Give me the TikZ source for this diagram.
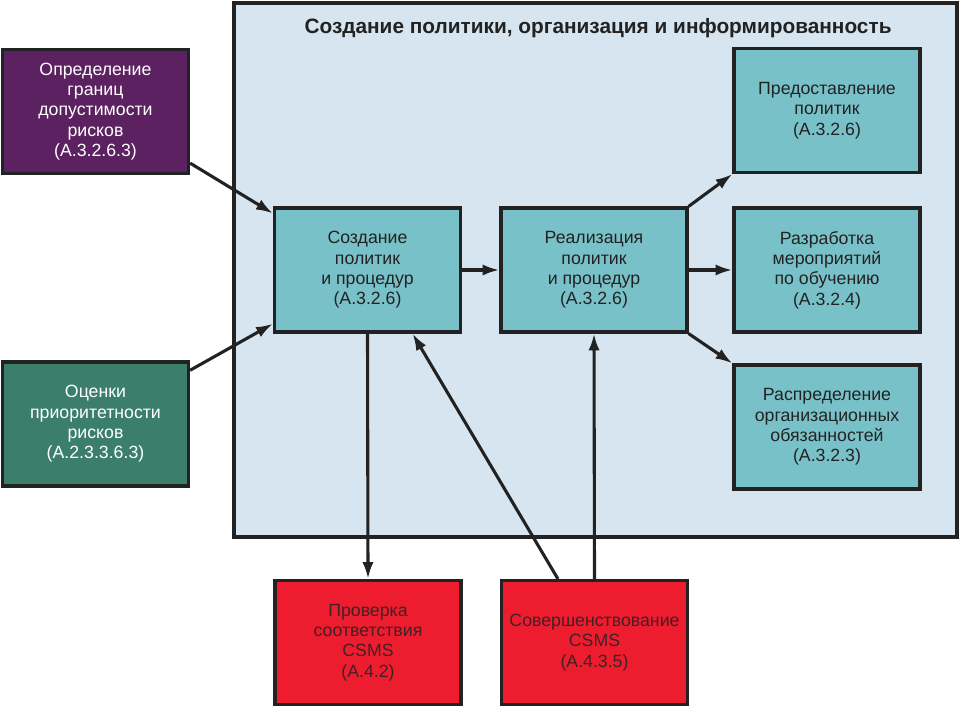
\documentclass[tikz,border=0pt]{standalone}
\usepackage{fontspec}
\setmainfont{Liberation Sans}
\usepackage{xcolor}
\usepackage{tikz}
\usetikzlibrary{arrows.meta}

\definecolor{plum}{HTML}{5C2160}
\definecolor{pine}{HTML}{3B7E6C}
\definecolor{teal}{HTML}{79C1C8}
\definecolor{pale}{HTML}{D6E5EF}
\definecolor{alarm}{HTML}{EE1C2F}
\definecolor{ink}{HTML}{222222}

\tikzset{
  block/.style={draw=ink, line width=2.2pt, minimum width=4.65cm, minimum height=3.1cm,
    align=center, font=\fontsize{12.6}{14.4}\selectfont, inner sep=2pt},
  tealbox/.style={block, fill=teal, text=ink},
  inbox/.style={block, text=white},
  redbox/.style={block, fill=alarm, text=ink!85!alarm},
  flow/.style={line width=2.2pt, draw=ink, -{Latex[length=12pt,width=8pt]}}
}

\begin{document}
\begin{tikzpicture}[x=0.025cm, y=-0.025cm]
    \useasboundingbox (0,0) rectangle (964,708);

    % Frame
    \draw[draw=ink, line width=2.2pt, fill=pale] (234,3) rectangle (957,537);
    \node[font=\fontsize{14.8}{17}\selectfont\bfseries, text=ink] (title) at (598,28)
      {Создание политики, организация и информированность};

    % Inputs
    \node[inbox, fill=plum] (bounds) at (95.5,111.5)
      {Определение\\границ\\допустимости\\рисков\\(A.3.2.6.3)};
    \node[inbox, fill=pine] (ratings) at (95.5,424)
      {Оценки\\приоритетности\\рисков\\(A.2.3.3.6.3)};

    % Policy steps
    \node[tealbox] (create) at (367.5,270)
      {Создание\\политик\\и процедур\\(A.3.2.6)};
    \node[tealbox] (apply) at (594,270)
      {Реализация\\политик\\и процедур\\(A.3.2.6)};

    % Outputs
    \node[tealbox] (provide) at (827,110.5)
      {Предоставление\\политик\\(A.3.2.6)};
    \node[tealbox] (training) at (827,270)
      {Разработка\\мероприятий\\по обучению\\(A.3.2.4)};
    \node[tealbox] (duties) at (827,427)
      {Распределение\\организационных\\обязанностей\\(A.3.2.3)};

    % Review
    \node[redbox] (check) at (368,642.5)
      {Проверка\\соответствия\\CSMS\\(A.4.2)};
    \node[redbox] (improve) at (594.5,642.5)
      {Совершенствование\\CSMS\\(A.4.3.5)};

    % Arrows
    \draw[flow] ([yshift=8.5pt]bounds.south east) -- ([yshift=-5pt]create.north west);
    \draw[flow] ([yshift=-7pt]ratings.north east) -- ([yshift=7pt]create.south west);
    \draw[flow] (create) -- (apply);
    \draw[flow] (create.south) -- (check.north);
    \draw[flow] ([xshift=-26pt]improve.north) -- ([xshift=32pt]create.south);
    \draw[flow] (improve.north) -- (apply.south);
    \draw[flow] (apply.north east) -- (provide.south west);
    \draw[flow] (apply) -- (training);
    \draw[flow] (apply.south east) -- (duties.north west);
\end{tikzpicture}
\end{document}
